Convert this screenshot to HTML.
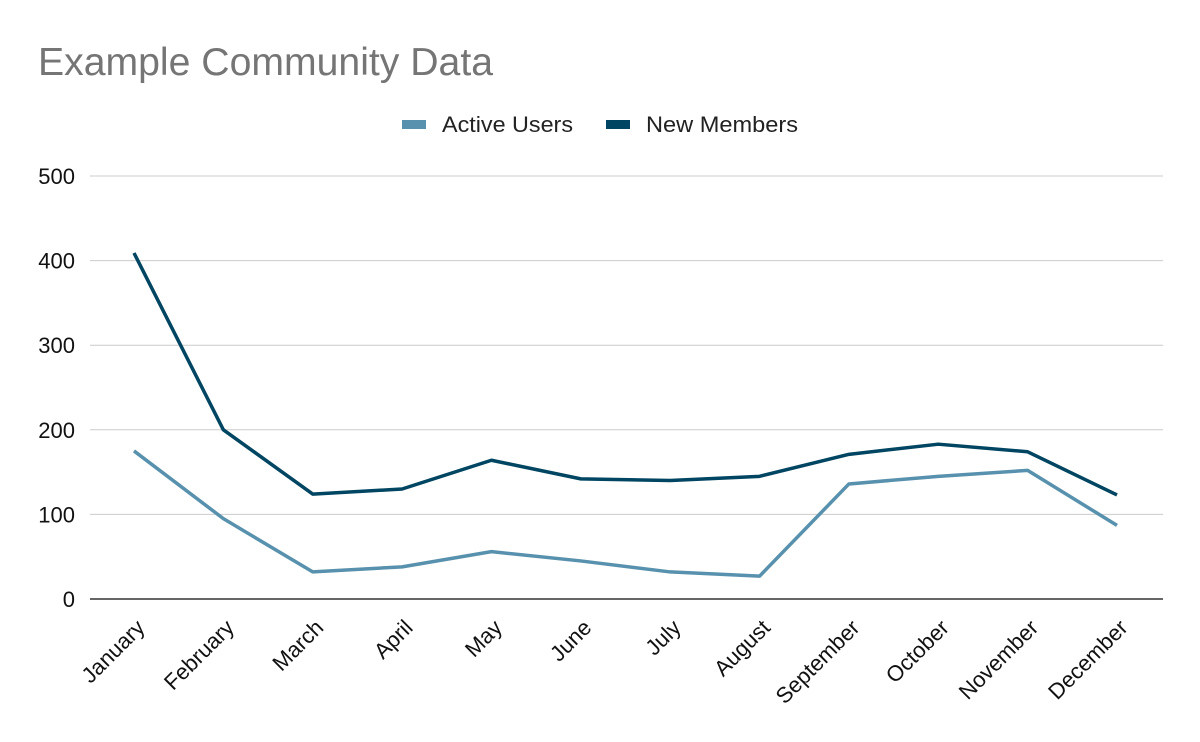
<!DOCTYPE html>
<html><head><meta charset="utf-8"><style>
html,body{margin:0;padding:0;background:#fff;}
svg{display:block;font-family:"Liberation Sans",Arial,sans-serif;}
</style></head><body>
<svg id="chart" width="1200" height="742" viewBox="0 0 1200 742">
<rect width="1200" height="742" fill="#fff"/>
<text x="38" y="75" font-size="39" fill="#757575" textLength="455" lengthAdjust="spacingAndGlyphs">Example Community Data</text>
<g>
<g><rect x="402" y="120" width="24" height="9" fill="#5891ad"/><text x="442" y="132" font-size="22" fill="#222" textLength="131" lengthAdjust="spacingAndGlyphs">Active Users</text></g>
<g><rect x="606" y="120" width="24" height="9" fill="#004561"/><text x="646" y="132" font-size="22" fill="#222" textLength="152" lengthAdjust="spacingAndGlyphs">New Members</text></g>
</g>
<g id="grid"></g>
<g id="yaxis"></g>
<g id="xaxis"></g>
<g id="series"></g>
</svg>
<script>
const categories=["January","February","March","April","May","June","July","August","September","October","November","December"];
const activeUsers=[175,95,32,38,56,45,32,27,136,145,152,87];
const newMembers=[409,200,124,130,164,142,140,145,171,183,174,123];
const yTicks=[0,100,200,300,400,500];
const NS="http://www.w3.org/2000/svg";
const x0=134,x1=1117,yBase=599,yTop=176,yMax=500;
function xs(i){return x0+(x1-x0)*i/(categories.length-1);}
function ys(v){return yBase-(yBase-yTop)*v/yMax;}
function mk(t,a,p){const e=document.createElementNS(NS,t);for(const k in a)e.setAttribute(k,a[k]);p.appendChild(e);return e;}
const grid=document.getElementById('grid'),ya=document.getElementById('yaxis'),xa=document.getElementById('xaxis'),se=document.getElementById('series');
yTicks.forEach(v=>{
 const l=mk('line',{x1:90,x2:1163,y1:ys(v),y2:ys(v),stroke:v===0?'#333':'#ccc','stroke-width':v===0?1.5:1},grid);
 
 
 const t=mk('text',{x:75,y:ys(v)+8,'text-anchor':'end','font-size':22,fill:'#111'},ya);
 t.textContent=v;
 
 
});
categories.forEach((c,i)=>{
 const x=xs(i)+12,y=yBase+30;
 const t=mk('text',{x:x,y:y,'text-anchor':'end','font-size':22,fill:'#111',transform:`rotate(-45 ${x} ${y})`},xa);
 t.textContent=c;
 
 
});
function line(vals,color,name){
 const d=vals.map((v,i)=>(i?'L':'M')+xs(i)+' '+ys(v)).join(' ');
 const p=mk('path',{d:d,fill:'none',stroke:color,'stroke-width':3.5,'stroke-linejoin':'round'},se);
 
 
}
line(activeUsers,'#5891ad','active-users-line');
line(newMembers,'#004561','new-members-line');
</script>
</body></html>
